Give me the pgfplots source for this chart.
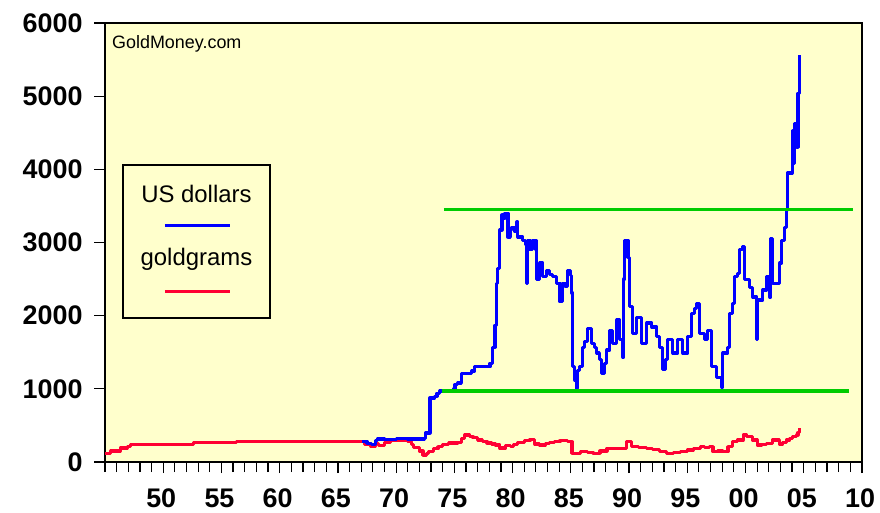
\documentclass[border=0pt]{standalone}
\usepackage{fontspec}
\setmainfont{Liberation Sans}
\usepackage{pgfplots}
\pgfplotsset{compat=1.18}
\definecolor{bgyel}{RGB}{255,255,204}
\definecolor{ublue}{RGB}{0,0,255}
\definecolor{gred}{RGB}{255,0,51}
\definecolor{lgreen}{RGB}{0,204,0}
\begin{document}
\begin{tikzpicture}
\useasboundingbox (-105bp,-51bp) rectangle (775bp,462bp);
\begin{axis}[
  at={(0,0)}, anchor=south west,
  scale only axis, width=757bp, height=439bp,
  xmin=1945, xmax=2010, ymin=0, ymax=6000,
  axis background/.style={fill=bgyel},
  axis line style={line width=1.5bp, black},
  tick align=outside, tick pos=left,
  major tick length=11bp, minor tick length=10bp,
  every tick/.style={black, line width=1.2bp},
  xtick={1950,1955,...,2010},
  xticklabels={50,55,60,65,70,75,80,85,90,95,00,05,10},
  minor xtick={1945,...,2010},
  ytick={0,1000,...,6000},
  /pgf/number format/assume math mode=true,
  /pgf/number format/1000 sep={},
  ticklabel style={font=\bfseries\fontsize{27}{30}\selectfont},
  xticklabel style={yshift=-12bp, xshift=-2bp},
  yticklabel style={xshift=-8bp},
  clip=false,
]
\addplot[gred, line width=3.2bp, const plot, line join=round] coordinates {
(1945.0,115) (1945.5,150) (1946.3,190) (1946.9,210) (1947.2,235)
(1952.5,235) (1952.6,262) (1956.2,262) (1956.3,280) (1967.1,280)
(1967.3,240) (1967.8,220) (1968.2,250) (1968.5,230) (1969.0,270)
(1969.5,300) (1970.5,290) (1971.0,280) (1971.3,240) (1971.5,200) (1972.0,150)
(1972.3,90) (1972.6,120) (1972.8,140) (1973.2,180) (1973.6,210) (1974.0,240) (1974.5,260) (1975.3,270)
(1975.6,320) (1975.9,369) (1976.3,345) (1976.6,330) (1977.0,300) (1977.4,280) (1977.8,260)
(1978.2,245) (1978.5,232) (1978.9,190) (1979.4,230) (1979.8,210) (1980.1,240) (1980.4,264)
(1981.0,290) (1981.5,310) (1981.9,246) (1982.3,232) (1982.8,250)
(1983.2,264) (1983.6,275) (1984.06,291) (1984.74,277) (1985.0,277) (1985.1,119)
(1985.8,141) (1986.4,130) (1986.9,119) (1987.5,150) (1988.1,187)
(1988.8,180) (1989.5,187) (1989.8,277) (1990.2,210) (1990.8,195)
(1991.5,187) (1992.0,170) (1992.6,141) (1993.2,119) (1993.8,135)
(1994.4,141) (1995.0,165) (1995.5,187) (1996.1,210) (1996.5,200)
(1996.9,210) (1997.2,141) (1997.6,150) (1998.05,141) (1998.5,210)
(1998.9,277) (1999.3,300) (1999.8,369) (2000.1,346) (2000.6,300)
(2001.0,232) (2001.4,240) (2001.8,255) (2002.3,300) (2002.9,246)
(2003.2,270) (2003.5,300) (2003.8,320) (2004.06,346) (2004.4,369)
(2004.5,400) (2004.66,460)
};
\addplot[ublue, line width=3.2bp, const plot, line join=round] coordinates {
(1967.1,280) (1967.5,255) (1967.9,240) (1968.2,290) (1968.4,314)
(1969.0,310) (1970.0,318) (1971.0,314) (1972.4,318) (1972.5,396)
(1972.85,396) (1972.9,875) (1973.3,900) (1973.5,940) (1973.75,970)
(1974.9,1000) (1975.05,1060) (1975.3,1080) (1975.6,1215) (1976.5,1245)
(1976.75,1300) (1978.05,1350) (1978.3,1570) (1978.48,1870) (1978.65,2440)
(1978.73,2650) (1978.9,3170) (1979.08,3375) (1979.25,3330) (1979.35,3400)
(1979.6,3075) (1979.8,3180) (1979.94,3210) (1980.2,3150) (1980.37,3280)
(1980.45,3075) (1980.88,3030) (1981.1,2980) (1981.22,2445) (1981.3,3030)
(1981.5,2900) (1981.74,3030) (1982.0,2900) (1982.08,2490) (1982.34,2720)
(1982.6,2530) (1982.94,2620) (1983.2,2560) (1983.45,2530) (1983.8,2445)
(1984.06,2190) (1984.31,2445) (1984.5,2400) (1984.74,2620) (1985.0,2550)
(1985.09,2310) (1985.17,1300) (1985.34,1120) (1985.52,1010) (1985.6,1250)
(1985.77,1300) (1986.03,1570) (1986.2,1650) (1986.46,1830) (1986.8,1625)
(1987.0,1560) (1987.23,1490) (1987.45,1400) (1987.66,1215) (1987.9,1350)
(1988.09,1530) (1988.35,1800) (1988.6,1625) (1988.95,1940) (1989.2,1670)
(1989.46,1435) (1989.55,2500) (1989.64,3030) (1989.9,2800) (1990.06,2120)
(1990.32,1760) (1990.67,1980) (1991.1,1625) (1991.52,1900) (1991.95,1845)
(1992.38,1710) (1992.64,1570) (1992.9,1260) (1993.1,1400) (1993.33,1670)
(1993.76,1490) (1994.18,1670) (1994.61,1490) (1995.04,1710) (1995.39,2035)
(1995.6,2100) (1995.82,2170) (1996.07,1760) (1996.5,1670) (1996.76,1800)
(1997.1,1300) (1997.53,1160) (1997.96,1025) (1998.05,1490) (1998.48,1570)
(1998.65,2035) (1998.9,2170) (1999.08,2530) (1999.33,2580) (1999.5,2900)
(1999.76,2940) (1999.94,2490) (2000.36,2390) (2000.62,2255) (2000.97,1670)
(2001.05,2215) (2001.48,2350) (2001.82,2530) (2002.08,2255) (2002.17,3060)
(2002.34,2445) (2002.94,2720) (2003.1,3030) (2003.37,3210) (2003.54,3440)
(2003.6,3950) (2004.0,4535) (2004.06,4085) (2004.23,4630) (2004.4,4300)
(2004.5,5040) (2004.66,5560)
};
\addplot[lgreen, line width=3.2bp] coordinates {(1974.1,3450) (2009.2,3450)};
\addplot[lgreen, line width=3.2bp] coordinates {(1973.9,970) (2008.9,970)};
\draw[black, line width=1.5bp] (axis cs:1946.55,1968) rectangle (axis cs:1959.16,4059);
\node[anchor=base, inner sep=0pt, font=\fontsize{24}{28}\selectfont] at (axis cs:1952.85,3540) {US dollars};
\node[anchor=base, inner sep=0pt, font=\fontsize{24}{28}\selectfont] at (axis cs:1952.85,2692) {goldgrams};
\draw[ublue, line width=3bp] (axis cs:1950.15,3239) -- (axis cs:1955.73,3239);
\draw[gred, line width=3bp] (axis cs:1950.15,2337) -- (axis cs:1955.73,2337);
\node[anchor=base west, inner sep=0pt, font=\fontsize{18}{21}\selectfont] at (axis cs:1945.6,5645) {GoldMoney.com};
\end{axis}
\end{tikzpicture}
\end{document}
